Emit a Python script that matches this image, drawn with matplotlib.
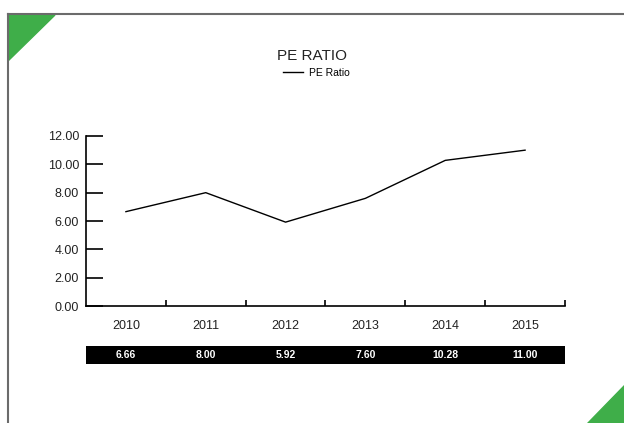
import matplotlib
matplotlib.use("Agg")
import matplotlib.pyplot as plt
from matplotlib.patches import Polygon
from matplotlib.lines import Line2D

plt.rcParams['font.family'] = ['Liberation Sans', 'DejaVu Sans']

years = ['2010', '2011', '2012', '2013', '2014', '2015']
pe_ratio = [6.66, 8.00, 5.92, 7.60, 10.28, 11.00]
y_ticks = [0, 2, 4, 6, 8, 10, 12]

W, H = 624, 423
fig = plt.figure(figsize=(W / 100, H / 100), dpi=100)


def fx(px):
    return px / W


def fy(py):
    return 1 - py / H


# frame border and corner decorations
border = '#6b6b6b'
fig.add_artist(Line2D([fx(7.5), fx(7.5)], [fy(14), 0], color=border, linewidth=1.5))
fig.add_artist(Line2D([fx(7.5), 1], [fy(14), fy(14)], color=border, linewidth=1.5))
green = '#3fae49'
fig.add_artist(Polygon([[fx(8), fy(15)], [fx(55), fy(15)], [fx(8), fy(61)]],
                       closed=True, color=green, transform=fig.transFigure))
fig.add_artist(Polygon([[fx(587), 0], [1, 0], [1, fy(385)]],
                       closed=True, color=green, transform=fig.transFigure))

# main chart
ax = fig.add_axes([fx(86), fy(306), fx(565) - fx(86), fy(136) - fy(306)])
x = list(range(len(years)))
line, = ax.plot(x, pe_ratio, color='black', linewidth=1.0, label='PE Ratio')
ax.set_xlim(-0.5, len(years) - 0.5)
ax.set_ylim(0, 12)
ax.set_yticks(y_ticks)
ax.set_yticklabels(['{:.2f}'.format(v) for v in y_ticks])
ax.set_xticks(x)
ax.set_xticklabels(years)
ax.set_xticks([i + 0.5 for i in x], minor=True)
ax.tick_params(axis='x', which='major', length=0, pad=10, labelsize=9, colors='#222222')
ax.tick_params(axis='x', which='minor', direction='in', length=4, width=1.2)
ax.tick_params(axis='y', direction='in', length=12, width=1.2, pad=5, labelsize=9,
               labelcolor='#222222')
for s in ['top', 'right']:
    ax.spines[s].set_visible(False)
for s in ['left', 'bottom']:
    ax.spines[s].set_linewidth(1.2)

fig.text(fx(312), fy(56), 'PE RATIO', ha='center', va='center', fontsize=11, color='#222222')
fig.legend(handles=[line], loc='center', bbox_to_anchor=(fx(316), fy(73)), frameon=False,
           fontsize=7.5, handlelength=2.0, handletextpad=0.5, borderpad=0)

# data table strip
tab = fig.add_axes([fx(86), fy(364), fx(565) - fx(86), fy(346) - fy(364)])
tab.set_facecolor('black')
tab.set_xlim(-0.5, len(years) - 0.5)
tab.set_ylim(0, 1)
tab.set_xticks([])
tab.set_yticks([])
for s in tab.spines.values():
    s.set_visible(False)
for i, v in enumerate(pe_ratio):
    tab.text(i, 0.5, '{:.2f}'.format(v), ha='center', va='center', color='white',
             fontsize=7.5, fontweight='bold')

fig.savefig('out.png', dpi=100)
